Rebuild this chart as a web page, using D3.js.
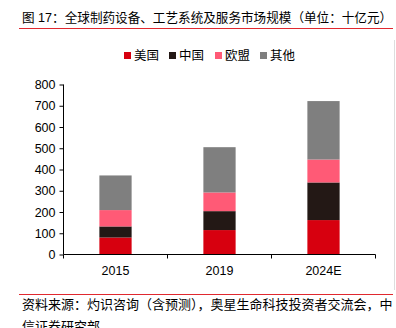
<!DOCTYPE html>
<html>
<head>
<meta charset="utf-8">
<script src="https://cdn.jsdelivr.net/npm/d3@7"></script>
<style>
  body { margin: 0; background: #fff; }
  text { font-family: "Liberation Sans", "Noto Sans CJK SC", sans-serif; fill: #000; }
</style>
</head>
<body>
<div id="chart"></div>
<script>
// Market size by region, billions of yuan
var years = ["2015", "2019", "2024E"];
var regions = ["美国", "中国", "欧盟", "其他"];
var us = [80, 115, 162];
var china = [52, 89, 177];
var eu = [77, 88, 108];
var other = [163, 213, 275];
var yTicks = [0, 100, 200, 300, 400, 500, 600, 700, 800];

var colors = ["#d7000f", "#231815", "#ff5a76", "#7f7f7f"];

var svgWidth = 396;
var svgHeight = 328;

var svg = d3.select("#chart")
   .append("svg")
   .attr("width", svgWidth)
   .attr("height", svgHeight);

// title + red rules
svg.append("text")
   .attr("x", 22)
   .attr("y", 22)
   .style("font-size", "12.6px")
   .text("图 17：全球制药设备、工艺系统及服务市场规模（单位：十亿元）");

svg.append("line")
   .attr("x1", 19).attr("x2", 393)
   .attr("y1", 28.5).attr("y2", 28.5)
   .attr("stroke", "#e0282f").attr("stroke-width", 1.2);

svg.append("line")
   .attr("x1", 19).attr("x2", 393)
   .attr("y1", 294.5).attr("y2", 294.5)
   .attr("stroke", "#e0282f").attr("stroke-width", 1.2);

svg.append("line")
   .attr("x1", 394.5).attr("x2", 394.5)
   .attr("y1", 40).attr("y2", 290)
   .attr("stroke", "#ddd");

// source note, second line runs past the bottom edge
svg.append("text")
   .attr("x", 22)
   .attr("y", 309)
   .style("font-size", "13px")
   .text("资料来源：灼识咨询（含预测），奥星生命科技投资者交流会，中");
svg.append("text")
   .attr("x", 22)
   .attr("y", 331)
   .style("font-size", "13px")
   .text("信证券研究部");

// stacked data
var table = years.map(function(y, i) {
  return { year: y, "美国": us[i], "中国": china[i], "欧盟": eu[i], "其他": other[i] };
});
var series = d3.stack().keys(regions)(table);

var x = d3.scaleBand()
   .domain(years)
   .range([63.5, 375.5])
   .paddingInner(0.69)
   .paddingOuter(0.345);

var y = d3.scaleLinear()
   .domain([0, 800])
   .range([254.5, 84.5]);

var chartGroup = svg.append("g");

chartGroup.selectAll("g.layer")
   .data(series)
   .enter()
   .append("g")
   .attr("class", "layer")
   .attr("fill", (d, i) => colors[i])
   .selectAll("rect")
   .data(d => d)
   .enter()
   .append("rect")
   .attr("x", d => x(d.data.year))
   .attr("width", x.bandwidth())
   .attr("y", d => y(d[1]))
   .attr("height", d => y(d[0]) - y(d[1]));

// y axis
var leftAxis = d3.axisLeft(y).tickValues(yTicks).tickSize(4).tickPadding(4);
var gy = chartGroup.append("g")
   .attr("transform", "translate(63.5,0)")
   .call(leftAxis);
gy.selectAll("text").style("font-size", "12.5px");
gy.select(".domain").attr("d", "M0," + y(800) + "V" + y(0));

// x axis: ticks at band edges, labels centered
var step = x.step();
var edges = [0, 1, 2, 3].map(i => 63.5 + i * step);
var gx = chartGroup.append("g");
gx.append("line")
   .attr("x1", 63.5).attr("x2", 375.5)
   .attr("y1", y(0)).attr("y2", y(0))
   .attr("stroke", "#000");
gx.selectAll("line.tick")
   .data(edges)
   .enter()
   .append("line")
   .attr("class", "tick")
   .attr("x1", d => d).attr("x2", d => d)
   .attr("y1", y(0)).attr("y2", y(0) + 4)
   .attr("stroke", "#000");
gx.selectAll("text")
   .data(years)
   .enter()
   .append("text")
   .attr("x", d => x(d) + x.bandwidth() / 2)
   .attr("y", 275)
   .attr("text-anchor", "middle")
   .style("font-size", "12.5px")
   .text(d => d);

// legend
var legendX = [124, 169, 215, 260];
var legend = svg.append("g")
   .selectAll("g")
   .data(regions)
   .enter()
   .append("g")
   .attr("transform", (d, i) => `translate(${legendX[i]}, 52)`);
legend.append("rect")
   .attr("width", 7).attr("height", 7)
   .attr("fill", (d, i) => colors[i]);
legend.append("text")
   .attr("x", 10)
   .attr("y", 8)
   .style("font-size", "12.5px")
   .text(d => d);
</script>
</body>
</html>
